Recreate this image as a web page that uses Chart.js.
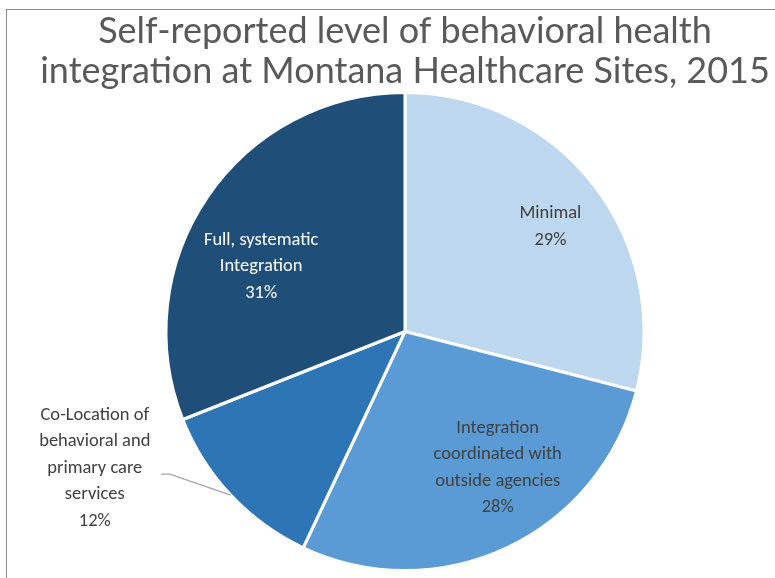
<!DOCTYPE html>
<html>
<head>
<meta charset="utf-8">
<script src="https://cdn.jsdelivr.net/npm/chart.js@4.4.1/dist/chart.umd.min.js"></script>
<style>
    html, body { margin: 0; padding: 0; background: #fff; }
    #wrap { position: relative; width: 775px; height: 578px; overflow: hidden; }
    #frame {
        position: absolute; left: 6px; top: 9px; right: -2px; bottom: -2px;
        border-top: 1px solid #8c8c8c; border-left: 1px solid #8c8c8c;
    }
    canvas { position: absolute; left: 0; top: 0; }
</style>
</head>
<body>
<div id="wrap">
    <div id="frame"></div>
    <canvas id="chart" width="775" height="578"></canvas>
</div>
<script>
const titleLines = [
    "Self-reported level of behavioral health",
    "integration at Montana Healthcare Sites, 2015",
]
const categories = [
    ["Minimal"],
    ["Integration", "coordinated with", "outside agencies"],
    ["Co-Location of", "behavioral and", "primary care", "services"],
    ["Full, systematic", "Integration"],
]
const shares = [29, 28, 12, 31]
const sliceColors = ["#BDD7EE", "#5B9BD5", "#2E75B6", "#1F4E79"]
const labelColors = ["#404040", "#404040", "#404040", "#ffffff"]

// where each label sits: angle shift (deg) off the slice middle, radius fraction,
// or outside with a leader line
const labelPlace = [
    { shift: 2, frac: 0.75 },
    { shift: -9, frac: 0.69 },
    { outside: true },
    { shift: -10, frac: 0.66 },
]

const labelFont = "18.5px Carlito, Calibri, 'Open Sans', sans-serif"
const lineGap = 26.5

const sliceLabels = {
    id: "sliceLabels",
    afterDatasetsDraw(chart) {
        const ctx = chart.ctx
        const arcs = chart.getDatasetMeta(0).data
        ctx.save()
        ctx.font = labelFont
        ctx.textAlign = "center"
        ctx.textBaseline = "middle"
        arcs.forEach((arc, i) => {
            const p = arc.getProps(["x", "y", "startAngle", "endAngle", "outerRadius"], true)
            const mid = (p.startAngle + p.endAngle) / 2
            const lines = categories[i].concat([shares[i] + "%"])
            const place = labelPlace[i]
            if (place.outside) {
                const ex = p.x + Math.cos(mid) * p.outerRadius
                const ey = p.y + Math.sin(mid) * p.outerRadius
                const kx = ex - 61
                const ky = ey - 21
                ctx.strokeStyle = "#a6a6a6"
                ctx.lineWidth = 1.3
                ctx.beginPath()
                ctx.moveTo(ex, ey)
                ctx.lineTo(kx, ky)
                ctx.lineTo(kx - 9, ky)
                ctx.stroke()
                const cx = kx - 75
                const top = ky - 6 - 2 * lineGap
                ctx.fillStyle = labelColors[i]
                lines.forEach((t, j) => ctx.fillText(t, cx, top + j * lineGap))
            } else {
                const a = mid + (place.shift * Math.PI) / 180
                const cx = p.x + Math.cos(a) * p.outerRadius * place.frac
                const cy = p.y + Math.sin(a) * p.outerRadius * place.frac
                const top = cy - ((lines.length - 1) * lineGap) / 2
                ctx.fillStyle = labelColors[i]
                lines.forEach((t, j) => ctx.fillText(t, cx, top + j * lineGap))
            }
        })
        ctx.restore()
    },
}

new Chart(document.getElementById("chart").getContext("2d"), {
    type: "pie",
    plugins: [sliceLabels],
    data: {
        labels: categories.map((c) => c.join(" ")),
        datasets: [
            {
                data: shares,
                backgroundColor: sliceColors,
                borderColor: "#ffffff",
                borderWidth: 3,
            },
        ],
    },
    options: {
        responsive: false,
        animation: false,
        layout: {
            padding: { left: 35, right: 0, top: 0, bottom: 6 },
        },
        radius: 239,
        plugins: {
            legend: { display: false },
            tooltip: { enabled: false },
            title: {
                display: true,
                text: titleLines,
                color: "#595959",
                font: { family: "Lato, 'Open Sans', sans-serif", size: 36, weight: "normal", lineHeight: "40px" },
                padding: { top: 11, bottom: 0 },
            },
        },
    },
})
</script>
</body>
</html>
